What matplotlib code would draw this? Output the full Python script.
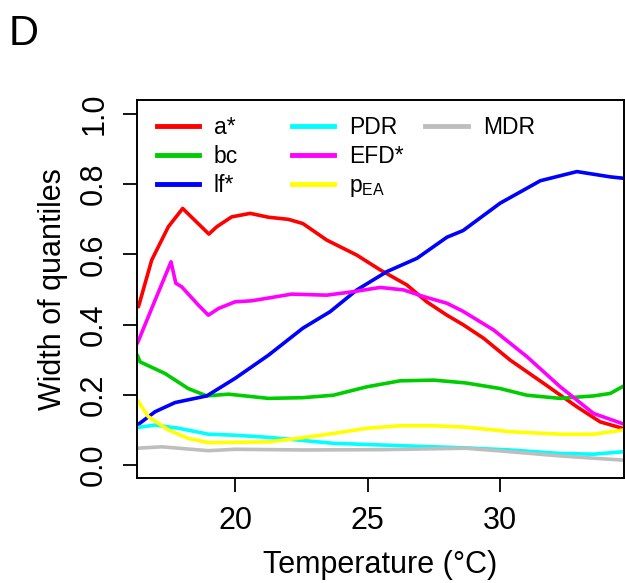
import matplotlib
matplotlib.use("Agg")
import matplotlib.pyplot as plt
from matplotlib.lines import Line2D

plt.rcParams['font.family'] = ['Liberation Sans', 'DejaVu Sans']

# a*
a_x = [16.34, 16.84, 17.47, 18.01, 19.0, 19.30, 19.86, 20.56, 21.25, 22.0, 22.55,
       23.45, 24.59, 25.47, 26.48, 27.23, 27.99, 28.6, 29.38, 30.38, 31.64, 32.90, 33.78, 34.66]
a_y = [0.451, 0.584, 0.679, 0.731, 0.658, 0.679, 0.707, 0.717, 0.706, 0.700, 0.688,
       0.641, 0.598, 0.556, 0.513, 0.465, 0.427, 0.400, 0.361, 0.299, 0.233, 0.166, 0.123, 0.104]

# bc
bc_x = [16.30, 16.40, 17.34, 18.22, 18.92, 19.74, 21.25, 22.55, 23.70, 24.97, 26.22,
        27.49, 28.7, 30.0, 31.01, 32.27, 33.53, 34.16, 34.66]
bc_y = [0.313, 0.294, 0.261, 0.218, 0.197, 0.202, 0.190, 0.192, 0.199, 0.223, 0.240,
        0.242, 0.234, 0.218, 0.199, 0.190, 0.197, 0.204, 0.225]

# lf*
lf_x = [16.30, 16.97, 17.72, 18.92, 19.99, 21.25, 22.55, 23.58, 24.59, 25.72, 26.86,
        27.99, 28.6, 30.0, 31.52, 32.90, 34.16, 34.66]
lf_y = [0.114, 0.152, 0.178, 0.197, 0.247, 0.313, 0.390, 0.437, 0.499, 0.551, 0.589,
        0.649, 0.668, 0.746, 0.810, 0.836, 0.821, 0.817]

# PDR
pdr_x = [16.30, 16.97, 17.85, 18.98, 19.99, 21.25, 22.55, 23.70, 25.59, 27.49, 28.7,
         30.38, 32.27, 33.53, 34.66]
pdr_y = [0.107, 0.114, 0.105, 0.088, 0.085, 0.079, 0.070, 0.062, 0.057, 0.052, 0.049,
         0.043, 0.033, 0.031, 0.038]

# EFD*
efd_x = [16.30, 16.97, 17.57, 17.75, 17.97, 18.60, 18.98, 19.36, 19.99, 20.62, 21.50,
         22.13, 22.55, 23.45, 24.46, 25.47, 26.35, 27.11, 27.99, 28.6, 29.75, 31.01,
         32.27, 33.53, 34.66]
efd_y = [0.347, 0.470, 0.579, 0.518, 0.508, 0.456, 0.427, 0.446, 0.465, 0.468, 0.479,
         0.487, 0.486, 0.484, 0.494, 0.506, 0.499, 0.480, 0.461, 0.438, 0.385, 0.309,
         0.223, 0.147, 0.117]

# pEA
pea_x = [16.30, 16.71, 17.47, 18.22, 18.98, 19.99, 21.25, 22.55, 23.70, 24.97, 26.22,
         27.49, 28.7, 30.38, 32.27, 33.53, 34.66]
pea_y = [0.185, 0.138, 0.100, 0.076, 0.064, 0.065, 0.066, 0.078, 0.090, 0.105, 0.112,
         0.112, 0.108, 0.095, 0.088, 0.088, 0.100]

# MDR
mdr_x = [16.30, 17.22, 18.98, 19.99, 22.63, 25.59, 28.7, 30.38, 32.27, 34.66]
mdr_y = [0.048, 0.052, 0.041, 0.045, 0.043, 0.044, 0.048, 0.038, 0.026, 0.014]

series = [
    (a_x, a_y, 'a*', '#FF0000'),
    (bc_x, bc_y, 'bc', '#00CD00'),
    (lf_x, lf_y, 'lf*', '#0000FF'),
    (pdr_x, pdr_y, 'PDR', '#00FFFF'),
    (efd_x, efd_y, 'EFD*', '#FF00FF'),
    (pea_x, pea_y, r'p$\mathregular{_{EA}}$', '#FFFF00'),
    (mdr_x, mdr_y, 'MDR', '#BEBEBE'),
]

fig = plt.figure(figsize=(6.25, 5.83), dpi=100)
ax = fig.add_axes([0.2192, 0.18, 0.7784, 0.6485])

handles = []
for xs, ys, lab, col in series:
    h, = ax.plot(xs, ys, color=col, lw=2.6, solid_capstyle='round', solid_joinstyle='round')
    handles.append(h)

ax.set_xlim(16.285, 34.66)
ax.set_ylim(-0.037, 1.04)
ax.set_xticks([20, 25, 30])
ax.set_yticks([0.0, 0.2, 0.4, 0.6, 0.8, 1.0])
ax.set_yticklabels(['0.0', '0.2', '0.4', '0.6', '0.8', '1.0'], rotation=90, va='center')
ax.tick_params(length=10, width=1.3, labelsize=22, direction='out')
ax.tick_params(axis='x', pad=10)
ax.tick_params(axis='y', pad=10)
for s in ax.spines.values():
    s.set_linewidth(1.4)

ax.set_xlabel('Temperature (°C)', fontsize=22, labelpad=10)
ax.set_ylabel('Width of quantiles', fontsize=22, labelpad=8)

# legend in three columns
labels = [s[2] for s in series]
idx = [[0, 1, 2], [3, 4, 5], [6]]
xpos = [0.0405, 0.318, 0.593]
for c, xp in enumerate(xpos):
    lh = [Line2D([], [], color=handles[i].get_color(), lw=3.5) for i in idx[c]]
    leg = ax.legend(lh, [labels[i] for i in idx[c]], loc='upper left',
                    bbox_to_anchor=(xp, 0.957), frameon=False, fontsize=16.5,
                    borderpad=0, borderaxespad=0, handlelength=1.85,
                    handletextpad=0.65, labelspacing=0.25)
    if c < 2:
        ax.add_artist(leg)

fig.text(0.014, 0.922, 'D', fontsize=30)

fig.savefig('out.png', dpi=100)
